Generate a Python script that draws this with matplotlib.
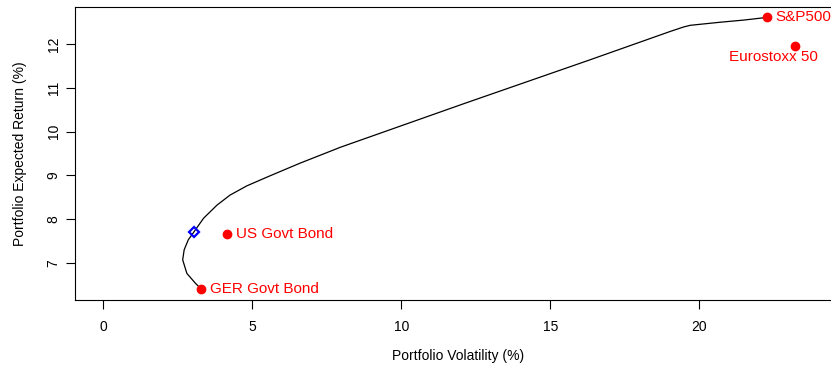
import matplotlib
matplotlib.use("Agg")
import matplotlib.pyplot as plt

plt.rcParams['font.family'] = ['Liberation Sans', 'DejaVu Sans']

# efficient frontier, volatility vs expected return (%)
frontier_vol = [3.27, 3.08, 2.80, 2.66, 2.71, 2.85, 3.04, 3.36, 3.81, 4.25, 4.81,
                5.59, 6.60, 7.72, 7.94, 12.14, 16.28, 19.02, 19.46, 19.69, 20.69,
                21.49, 22.26]
frontier_ret = [6.41, 6.54, 6.76, 7.07, 7.30, 7.53, 7.71, 8.02, 8.32, 8.55, 8.76,
                8.99, 9.28, 9.58, 9.64, 10.65, 11.63, 12.29, 12.39, 12.43, 12.50,
                12.55, 12.61]

assets = ["S&P500", "Eurostoxx 50", "US Govt Bond", "GER Govt Bond"]
asset_vol = [22.26, 23.21, 4.14, 3.27]
asset_ret = [12.61, 11.95, 7.66, 6.41]

# minimum variance portfolio
minvar_vol = 3.04
minvar_ret = 7.71

fig = plt.figure(figsize=(8.31, 3.69), dpi=100)
# plot region runs a little past the right edge of the figure
ax = fig.add_axes([74.5 / 831, 69 / 369, 766.5 / 831, 293.5 / 369])

ax.plot(frontier_vol, frontier_ret, color="black", lw=0.9)
ax.plot(asset_vol, asset_ret, "o", color="red", ms=6, mec="red")
ax.plot(minvar_vol, minvar_ret, "D", ms=5, mfc="none", mec="blue", mew=1.6)

for name, v, r in zip(assets, asset_vol, asset_ret):
    if name == "Eurostoxx 50":
        ax.annotate(name, (v, r), xytext=(-15.5, -3), textcoords="offset points",
                    ha="center", va="top", color="red", fontsize=11,
                    annotation_clip=False)
    else:
        ax.annotate(name, (v, r), xytext=(6.5, 0), textcoords="offset points",
                    ha="left", va="center", color="red", fontsize=11,
                    annotation_clip=False)

ax.set_xlim(-0.97, 24.75)
ax.set_ylim(6.152, 12.86)
ax.set_xticks([0, 5, 10, 15, 20])
ax.set_yticks([7, 8, 9, 10, 11, 12])
ax.spines["right"].set_visible(False)
for s in ax.spines.values():
    s.set_linewidth(0.8)

ax.tick_params(direction="out", length=6.5, width=0.8, labelsize=10)
ax.tick_params(axis="x", pad=8)
ax.tick_params(axis="y", pad=3.5, labelrotation=90)
for lab in ax.get_yticklabels():
    lab.set_va("center")

ax.set_xlabel("Portfolio Volatility (%)", fontsize=10, labelpad=11)
ax.set_ylabel("Portfolio Expected Return (%)", fontsize=10, labelpad=14)

fig.savefig("out.png", dpi=100)
